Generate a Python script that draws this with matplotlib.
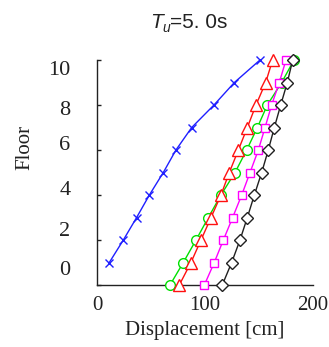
import matplotlib
matplotlib.use("Agg")
import matplotlib.pyplot as plt
from matplotlib.transforms import offset_copy
import numpy as np

floors_blue = [1, 2, 3, 4, 5, 6, 7, 8, 9, 10]
blue = [11.4, 24.4, 36.7, 48.5, 61.4, 73.1, 87.7, 108.3, 127.2, 150.9]
floors = [0, 1, 2, 3, 4, 5, 6, 7, 8, 9, 10]
green = [67.6, 79.9, 91.7, 103.1, 114.8, 127.8, 138.6, 148.5, 157.7, 171.0, 182.4]
red = [76.2, 87.0, 96.3, 105.6, 114.8, 122.5, 130.9, 139.2, 147.2, 156.2, 162.6]
magenta = [99.4, 108.6, 117.0, 125.6, 134.0, 141.7, 149.4, 155.6, 161.7, 168.8, 175.0]
black = [116.0, 124.7, 132.4, 139.2, 145.7, 152.5, 158.6, 164.2, 170.1, 176.2, 181.2]

y_ticks = [0, 2, 4, 6, 8, 10]
y_label_pos = [0.76, 2.49, 4.31, 6.31, 7.87, 9.64]
y_labels = ["0", "2", "4", "6", "8", "10"]
x_ticks = [0, 100, 200]
x_labels = ["0", "100", "200"]
title_main, title_sub, title_rest = "T", "u", "=5. 0s"

title_family = "Liberation Sans"

fig = plt.figure(figsize=(3.29, 3.47), dpi=100)
ax = fig.add_axes([97/329, 1-285/347, 216/329, 225/347])

serif = "Liberation Serif"

ax.plot(blue, floors_blue, color="#1f1fff", marker="x", ms=6, lw=1, mew=1, clip_on=False, zorder=3)
ax.plot(green, floors, color="#00e000", marker="o", ms=7, lw=1, mew=1, mfc="white", clip_on=False, zorder=3)
ax.plot(red, floors, color="#ff1010", marker="^", ms=8, lw=1, mew=1, mfc="white", clip_on=False, zorder=4)
ax.plot(magenta, floors, color="#ff00ff", marker="s", ms=6, lw=1, mew=1, mfc="white", clip_on=False, zorder=5)
ax.plot(black, floors, color="#202020", marker="D", ms=6, lw=1, mew=1, mfc="white", clip_on=False, zorder=6)

ax.set_xlim(0, 200)
ax.set_ylim(0, 10)
for s in ["top", "right"]:
    ax.spines[s].set_visible(False)
for s in ["left", "bottom"]:
    ax.spines[s].set_color("#222222")
    ax.spines[s].set_linewidth(1)

ax.set_yticks(y_ticks)
ax.set_yticklabels([])
ax.tick_params(axis="y", which="major", direction="in", length=3, width=1, color="#222222")
ax.set_yticks(y_label_pos, minor=True)
ax.set_yticklabels(y_labels, minor=True, fontfamily=serif, fontsize=16, color="#222222")
ax.tick_params(axis="y", which="minor", length=0, pad=19)

ax.set_xticks(x_ticks)
ax.set_xticklabels(x_labels, fontfamily=serif, fontsize=15, color="#222222")
ax.tick_params(axis="x", which="major", length=0, pad=8)

fig.text(205/329, 1-330/347, "Displacement [cm]", ha="center", va="center",
         fontfamily=serif, fontsize=15, color="#222222")
fig.text(25/329, 1-147/347, "Floor", ha="center", va="center", rotation=90,
         fontfamily=serif, fontsize=15, color="#222222")

# title composed of pieces: italic T, italic subscript u, regular rest
renderer = fig.canvas.get_renderer()
x0_px, base_px = 150, 347 - 28
t1 = fig.text(x0_px / 329, base_px / 347, title_main, ha="left", va="baseline",
              fontfamily=title_family, style="italic", fontsize=15, color="#222222")
w1 = t1.get_window_extent(renderer).width
t2 = fig.text(0, 0, title_sub, ha="left", va="baseline",
              fontfamily=title_family, style="italic", fontsize=10, color="#222222",
              transform=offset_copy(fig.transFigure, fig=fig, x=x0_px + w1, y=base_px - 4, units="dots"))
w2 = t2.get_window_extent(renderer).width
t3 = fig.text(0, 0, title_rest, ha="left", va="baseline",
              fontfamily=title_family, fontsize=15, color="#222222",
              transform=offset_copy(fig.transFigure, fig=fig, x=x0_px + w1 + w2, y=base_px, units="dots"))

fig.savefig("out.png", dpi=100)
